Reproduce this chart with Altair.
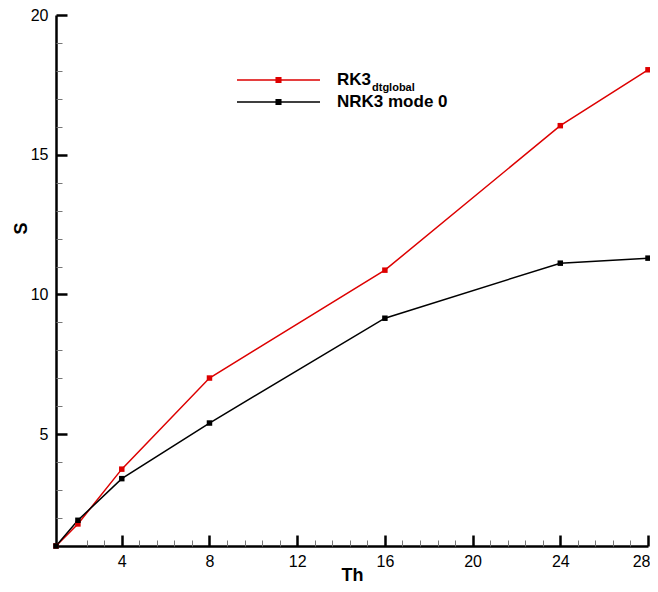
import altair as alt
import pandas as pd

# ---- data ----
th = [1, 2, 4, 8, 16, 24, 28]
s_rk3 = [1.0, 1.79, 3.75, 7.01, 10.87, 16.04, 18.04]
s_nrk3 = [1.0, 1.92, 3.41, 5.40, 9.15, 11.12, 11.30]
series_names = ["RK3", "NRK3 mode 0"]
series_colors = ["#dd0000", "#000000"]
sub_text = ["dtglobal"]

x_major = [4, 8, 12, 16, 20, 24, 28]
x_minor = [2.4, 3.2, 4.8, 5.6, 6.4, 7.2, 8.8, 9.6, 10.4, 11.2, 12.8, 13.6,
           14.4, 15.2, 16.8, 17.6, 18.4, 19.2, 20.8, 21.6, 22.4, 23.2,
           24.8, 25.6, 26.4, 27.2]
y_major = [5, 10, 15, 20]
y_minor = [2, 3, 4, 6, 7, 8, 9, 11, 12, 13, 14, 16, 17, 18, 19]

rows = []
for name, vals in zip(series_names, [s_rk3, s_nrk3]):
    for t, s in zip(th, vals):
        rows.append({"Th": t, "S": s, "series": name})
df = pd.DataFrame(rows)

FONT = "Liberation Sans"
W, H = 592, 531

x_scale = alt.Scale(domain=[1, 28], nice=False, zero=False)
y_scale = alt.Scale(domain=[1, 20], nice=False, zero=False)

legend_symbol = "M-1,0H1M-0.055,-0.055H0.055V0.055H-0.055Z"

main = alt.Chart(df).mark_line(
    strokeWidth=1.5,
    point=alt.OverlayMarkDef(shape="square", filled=True, size=30, opacity=1),
).encode(
    x=alt.X("Th:Q", scale=x_scale, axis=alt.Axis(
        orient="bottom", values=x_major, format="d", ticks=False, tickSize=0,
        labelPadding=7, labelFontSize=16, labelFont=FONT, labelColor="black",
        labelFlush=True, labelFlushOffset=2,
        domainColor="black", domainWidth=2.5, grid=False,
        title="Th", titleFont=FONT, titleFontSize=18, titleFontWeight="bold",
        titleColor="black", titleY=29, titleBaseline="middle")),
    y=alt.Y("S:Q", scale=y_scale, axis=alt.Axis(
        orient="left", values=y_major, format="d", ticks=False, tickSize=0,
        labelPadding=8, labelFontSize=16, labelFont=FONT, labelColor="black",
        domainColor="black", domainWidth=2.5, grid=False,
        title="S", titleFont=FONT, titleFontSize=18, titleFontWeight="bold",
        titleColor="black", titleX=-35, titleY=213, titleAngle=270,
        titleAlign="center", titleBaseline="middle")),
    color=alt.Color("series:N",
                    scale=alt.Scale(domain=series_names, range=series_colors),
                    sort=series_names,
                    legend=alt.Legend(
                        title=None, orient="none", legendX=180, legendY=54,
                        direction="vertical", symbolType=legend_symbol,
                        symbolSize=6889, symbolStrokeWidth=1.5, clipHeight=22,
                        rowPadding=0, padding=0, labelOffset=16,
                        labelFontSize=17, labelFontWeight="bold",
                        labelFont=FONT, labelColor="black")),
)

ticks_major = alt.Chart(df).mark_point(opacity=0).encode(
    x=alt.X("Th:Q", scale=x_scale, axis=alt.Axis(
        orient="top", offset=-H, values=x_major, labels=False, domain=False,
        grid=False, ticks=True, tickSize=11, tickWidth=2.5, tickColor="black",
        title=None)),
    y=alt.Y("S:Q", scale=y_scale, axis=alt.Axis(
        orient="right", offset=-W, values=y_major, labels=False, domain=False,
        grid=False, ticks=True, tickSize=11, tickWidth=2.5, tickColor="black",
        title=None)),
)

ticks_minor = alt.Chart(df).mark_point(opacity=0).encode(
    x=alt.X("Th:Q", scale=x_scale, axis=alt.Axis(
        orient="top", offset=-H, values=x_minor, labels=False, domain=False,
        grid=False, ticks=True, tickSize=6, tickWidth=1, tickColor="#777777",
        title=None)),
    y=alt.Y("S:Q", scale=y_scale, axis=alt.Axis(
        orient="right", offset=-W, values=y_minor, labels=False, domain=False,
        grid=False, ticks=True, tickSize=6, tickWidth=1, tickColor="#777777",
        title=None)),
)

sub = alt.Chart(pd.DataFrame({"t": sub_text})).mark_text(
    align="left", baseline="alphabetic", fontSize=11, fontWeight="bold",
    font=FONT, color="black",
).encode(text="t:N", x=alt.value(316), y=alt.value(76))

chart = alt.layer(main, ticks_major, ticks_minor, sub).resolve_axis(
    x="independent", y="independent"
).properties(
    width=W, height=H,
    padding={"left": 48, "top": 7, "right": 2, "bottom": 38},
    autosize=alt.AutoSizeParams(type="none"),
    background="white",
).configure_view(stroke="transparent")

chart.save("out.html", embed_options={"renderer": "svg", "actions": False})
